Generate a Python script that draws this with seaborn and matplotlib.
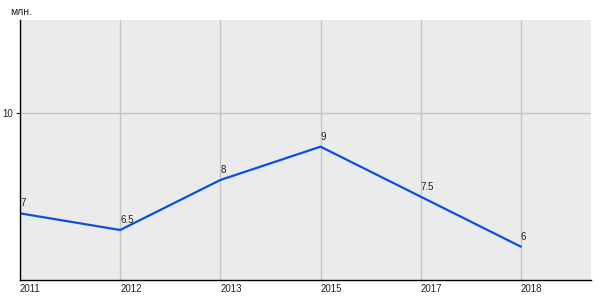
import matplotlib
matplotlib.use("Agg")
import matplotlib.pyplot as plt
import seaborn as sns
import pandas as pd

years = ["2011", "2012", "2013", "2015", "2017", "2018"]
values = [7, 6.5, 8, 9, 7.5, 6]
labels = ["7", "6.5", "8", "9", "7.5", "6"]

sns.set_style("white")
plt.rcParams['font.family'] = ['Liberation Sans', 'DejaVu Sans']

df = pd.DataFrame({"year": years, "value": values})

fig = plt.figure(figsize=(6, 3), dpi=100)
ax = fig.add_axes([20/600, 20/300, 571/600, 260/300])
ax.set_facecolor("#ebebeb")

sns.lineplot(data=df, x="year", y="value", ax=ax, color="#0a4fe0", linewidth=1.6, sort=False)

for i, (v, t) in enumerate(zip(values, labels)):
    ax.annotate(t, (i, v), xytext=(0, 5), textcoords="offset pixels",
                ha="left", va="bottom", fontsize=7, color="#222222")

ax.set_xlim(0, 5.7)
ax.set_ylim(5, 12.8)
ax.set_yticks([10])
ax.set_yticklabels(["10"])
ax.set_xticks(range(len(years)))
ax.set_xticklabels(years, ha="left")
ax.grid(True, color="#c4c4c4", linewidth=1)
ax.set_axisbelow(True)
ax.tick_params(axis="x", length=0, pad=3, labelsize=7, colors="#222222")
ax.tick_params(axis="y", length=3, width=0.8, pad=2, labelsize=7, colors="#222222", direction="out", left=True)
ax.set_xlabel("")
ax.set_ylabel("")
for s in ["top", "right"]:
    ax.spines[s].set_visible(False)
for s in ["left", "bottom"]:
    ax.spines[s].set_color("black")
    ax.spines[s].set_linewidth(1)

fig.text(10/600, 1 - 12/300, "млн.", fontsize=7.5, va="center", ha="left", color="#222222")

fig.savefig("out.png", dpi=100, facecolor="white")
